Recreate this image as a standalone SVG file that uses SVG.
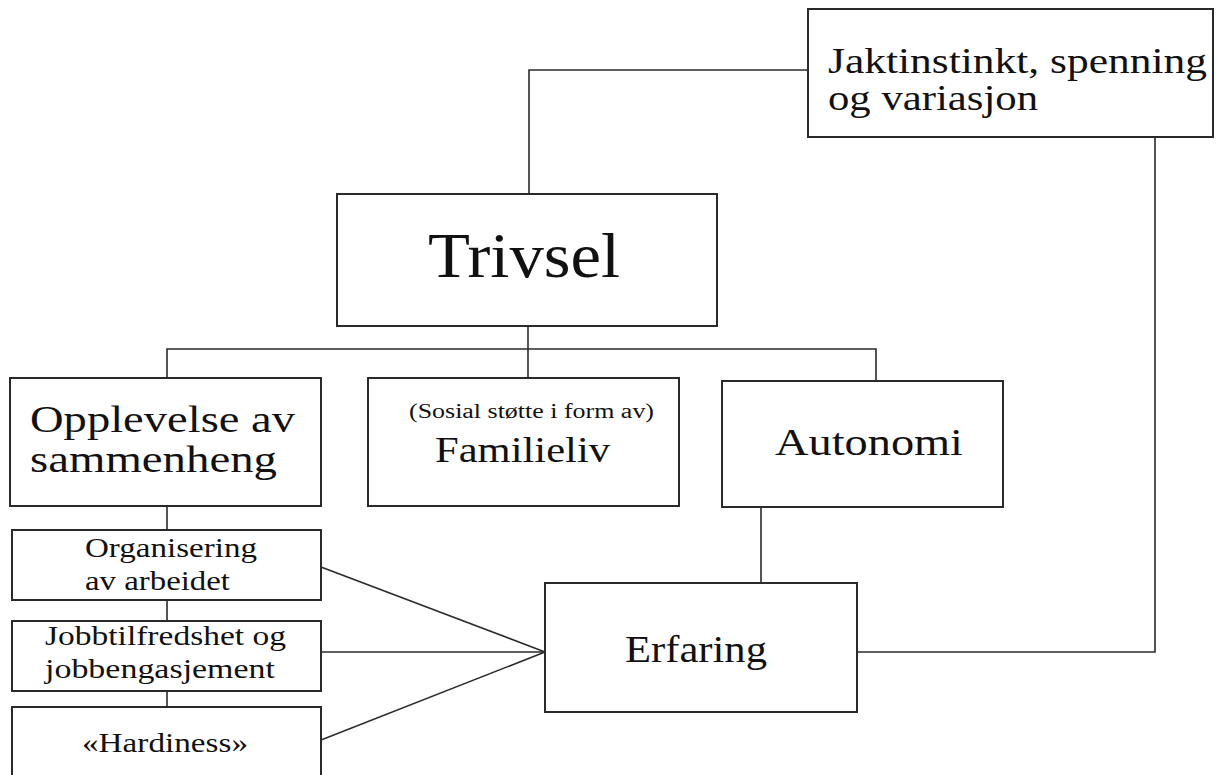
<svg xmlns="http://www.w3.org/2000/svg" width="1219" height="775" viewBox="0 0 1219 775">
<style>
.box{fill:#fff;stroke:#2a2a2a;stroke-width:2}
.ln{fill:none;stroke:#2a2a2a;stroke-width:1.6}
text{font-family:"Liberation Serif","Times New Roman",serif;fill:#111}
</style>
<rect width="1219" height="775" fill="#fff"/>
<g id="connectors">
<polyline class="ln" points="808,70 529,70 529,194"/>
<polyline class="ln" points="1155,137 1155,652 857,652"/>
<line class="ln" x1="528" y1="326" x2="528" y2="378"/>
<polyline class="ln" points="167,378 167,349 876,349 876,381"/>
<line class="ln" x1="167" y1="506" x2="167" y2="530"/>
<line class="ln" x1="167" y1="600" x2="167" y2="621"/>
<line class="ln" x1="167" y1="691" x2="167" y2="707"/>
<line class="ln" x1="761" y1="507" x2="761" y2="583"/>
<line class="ln" x1="321" y1="567" x2="545" y2="652"/>
<line class="ln" x1="321" y1="652" x2="545" y2="652"/>
<line class="ln" x1="321" y1="740" x2="545" y2="652"/>
</g>
<g id="jakt">
<rect class="box" x="808" y="9" width="405" height="128"/>
<text x="828" y="73" font-size="36" textLength="379" lengthAdjust="spacingAndGlyphs">Jaktinstinkt, spenning</text>
<text x="828" y="110" font-size="36" textLength="210" lengthAdjust="spacingAndGlyphs">og variasjon</text>
</g>
<g id="trivsel">
<rect class="box" x="337" y="194" width="380" height="132"/>
<text x="428" y="277" font-size="63" textLength="192" lengthAdjust="spacingAndGlyphs">Trivsel</text>
</g>
<g id="opplevelse">
<rect class="box" x="10" y="378" width="311" height="128"/>
<text x="30" y="432" font-size="38" textLength="265" lengthAdjust="spacingAndGlyphs">Opplevelse av</text>
<text x="30" y="472" font-size="38" textLength="247" lengthAdjust="spacingAndGlyphs">sammenheng</text>
</g>
<g id="familieliv">
<rect class="box" x="368" y="378" width="311" height="128"/>
<text x="409" y="418" font-size="20" textLength="245" lengthAdjust="spacingAndGlyphs">(Sosial støtte i form av)</text>
<text x="435" y="462" font-size="35" textLength="175" lengthAdjust="spacingAndGlyphs">Familieliv</text>
</g>
<g id="autonomi">
<rect class="box" x="722" y="381" width="281" height="126"/>
<text x="775" y="455" font-size="38" textLength="188" lengthAdjust="spacingAndGlyphs">Autonomi</text>
</g>
<g id="organisering">
<rect class="box" x="12" y="530" width="309" height="70"/>
<text x="85" y="557" font-size="27" textLength="172" lengthAdjust="spacingAndGlyphs">Organisering</text>
<text x="85" y="590" font-size="27" textLength="145" lengthAdjust="spacingAndGlyphs">av arbeidet</text>
</g>
<g id="jobb">
<rect class="box" x="12" y="621" width="309" height="70"/>
<text x="45" y="645" font-size="27" textLength="241" lengthAdjust="spacingAndGlyphs">Jobbtilfredshet og</text>
<text x="45" y="678" font-size="27" textLength="230" lengthAdjust="spacingAndGlyphs">jobbengasjement</text>
</g>
<g id="hardiness">
<rect class="box" x="12" y="707" width="309" height="80"/>
<text x="82" y="752" font-size="27" textLength="166" lengthAdjust="spacingAndGlyphs">«Hardiness»</text>
</g>
<g id="erfaring">
<rect class="box" x="545" y="583" width="312" height="129"/>
<text x="625" y="662" font-size="38" textLength="142" lengthAdjust="spacingAndGlyphs">Erfaring</text>
</g>
</svg>
